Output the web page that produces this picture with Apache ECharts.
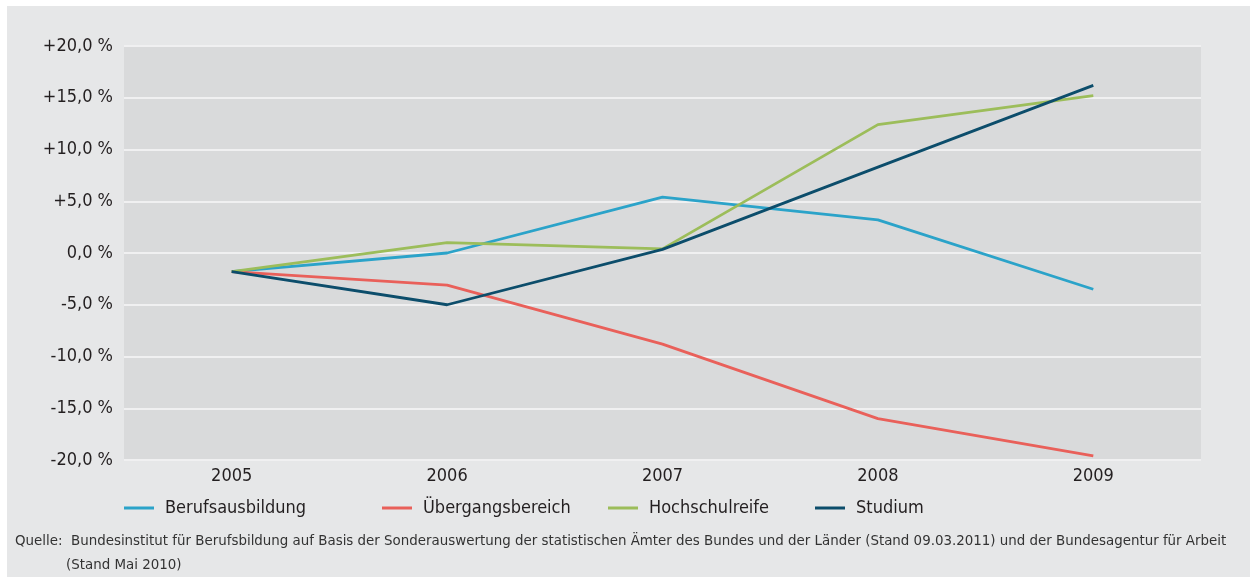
<!DOCTYPE html>
<html>
<head>
<meta charset="utf-8">
<script src="https://cdn.jsdelivr.net/npm/echarts@6/dist/echarts.min.js"></script>
<style>
html,body{margin:0;padding:0;background:#ffffff;}
#c{width:1250px;height:577px;}
</style>
</head>
<body>
<div id="c"></div>
<script>
var categories = ['2005', '2006', '2007', '2008', '2009'];
var berufsausbildung = [-1.8, 0.0, 5.4, 3.2, -3.5];
var uebergangsbereich = [-1.8, -3.1, -8.8, -16.0, -19.6];
var hochschulreife = [-1.8, 1.0, 0.4, 12.4, 15.2];
var studium = [-1.8, -5.0, 0.35, 8.3, 16.2];
var seriesNames = ['Berufsausbildung', 'Übergangsbereich', 'Hochschulreife', 'Studium'];
var seriesColors = ['#2ba3c9', '#e9605a', '#9cbd5a', '#0c4d6b'];
var sourceLine1 = 'Quelle:  Bundesinstitut für Berufsbildung auf Basis der Sonderauswertung der statistischen Ämter des Bundes und der Länder (Stand 09.03.2011) und der Bundesagentur für Arbeit';
var sourceLine2 = '(Stand Mai 2010)';

var FONT = '"Liberation Sans Narrow", "DejaVu Sans Condensed", sans-serif';
var chart = echarts.init(document.getElementById('c'), null, {renderer: 'canvas'});

var dataArr = [berufsausbildung, uebergangsbereich, hochschulreife, studium];
var legendLefts = [124, 382, 608, 815];

var series = seriesNames.map(function (n, i) {
  return {
    name: n, type: 'line', data: dataArr[i], symbol: 'none',
    lineStyle: {width: 2.8, color: seriesColors[i]},
    itemStyle: {color: seriesColors[i]},
    z: i === 3 ? 5 : 3
  };
});

var legends = seriesNames.map(function (n, i) {
  return {
    data: [n], left: legendLefts[i], top: 499, padding: 0, itemWidth: 30, itemHeight: 3,
    icon: 'rect', itemGap: 10,
    textStyle: {fontFamily: FONT, fontSize: 18, color: '#231f20', padding: [0, 0, 0, 6]}
  };
});

chart.setOption({
  backgroundColor: 'transparent',
  animation: false,
  graphic: [
    {type: 'rect', left: 7, top: 6, shape: {width: 1243, height: 571}, style: {fill: '#e6e7e8'}, z: -10, silent: true},
    {type: 'text', left: 15, top: 534, style: {text: sourceLine1, fill: '#333333', font: '14.9px ' + FONT}},
    {type: 'text', left: 66, top: 558, style: {text: sourceLine2, fill: '#333333', font: '14.9px ' + FONT}}
  ],
  legend: legends,
  grid: {left: 124, right: 49, top: 46, bottom: 117, backgroundColor: '#d9dadb', show: true, borderWidth: 0},
  xAxis: {
    type: 'category', data: categories, boundaryGap: true,
    axisLine: {show: false}, axisTick: {show: false},
    axisLabel: {fontFamily: FONT, fontSize: 18, color: '#231f20', margin: 7}
  },
  yAxis: {
    type: 'value', min: -20, max: 20, interval: 5,
    axisLine: {show: false}, axisTick: {show: false},
    splitLine: {lineStyle: {color: '#f0f0f1', width: 2}},
    axisLabel: {
      fontFamily: FONT, fontSize: 18, color: '#231f20', margin: 11, padding: [5, 0, 0, 0],
      formatter: function (v) {
        var s = Math.abs(v).toFixed(1).replace('.', ',') + ' %';
        if (v > 0) return '+' + s;
        if (v < 0) return '-' + s;
        return s;
      }
    }
  },
  series: series
});
</script>
</body>
</html>
